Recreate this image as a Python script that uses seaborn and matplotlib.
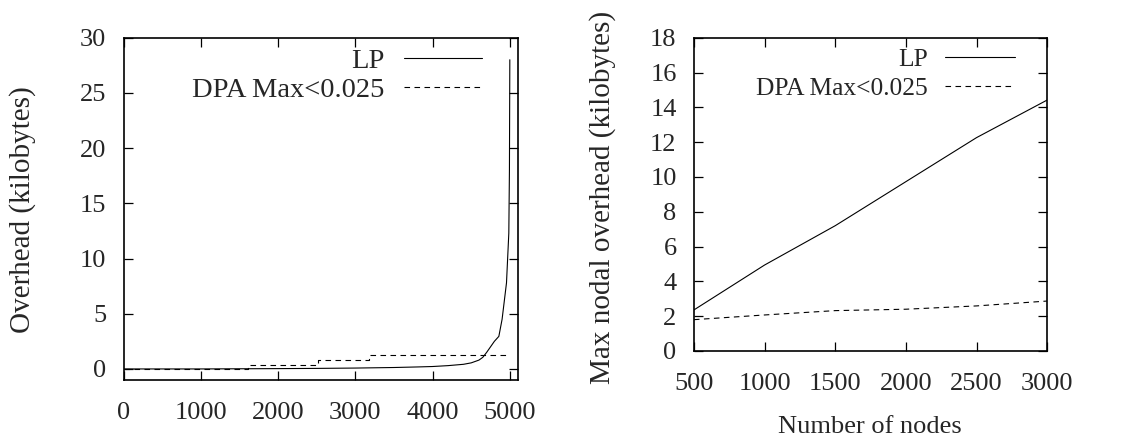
import matplotlib
matplotlib.use("Agg")
import matplotlib.pyplot as plt
import seaborn as sns
import pandas as pd

# Per-node overhead, nodes sorted by overhead (left panel)
lp_rank = [0, 1000, 2000, 2500, 3000, 3500, 3800, 4000, 4200, 4400, 4500,
           4600, 4650, 4700, 4750, 4800, 4858, 4900, 4957, 4987, 4995, 5000]
lp_overhead = [0.0, 0.0, 0.03, 0.05, 0.08, 0.13, 0.18, 0.22, 0.3, 0.42, 0.55,
               0.8, 1.05, 1.5, 2.0, 2.5, 2.95, 4.5, 7.8, 12.3, 18.0, 28.0]

dpa_rank = [0, 1613, 1613, 2511, 2511, 3180, 3180, 5000]
dpa_overhead = [0.0, 0.0, 0.4, 0.4, 0.85, 0.85, 1.27, 1.27]

# Max nodal overhead against network size (right panel)
nodes = [500, 1000, 1500, 2000, 2500, 3000]
lp_max = [2.36, 4.94, 7.2, 9.73, 12.26, 14.42]
dpa_max = [1.8, 2.07, 2.32, 2.4, 2.59, 2.87]

LP_LABEL = "LP"
DPA_LABEL = "DPA Max<0.025"

sns.set_style("ticks")
plt.rcParams["font.family"] = ["Liberation Serif", "DejaVu Serif"]
TICK_FS = 19
XLABEL_FS = 19
YLABEL_FS = 21

fig = plt.figure(figsize=(11.44, 4.42), dpi=100)
ax1 = fig.add_axes([0.108, 0.1403, 0.3444, 0.7745])
ax2 = fig.add_axes([0.6066, 0.2059, 0.3088, 0.7088])

left_df = pd.concat([
    pd.DataFrame({"rank": lp_rank, "overhead": lp_overhead, "series": LP_LABEL}),
    pd.DataFrame({"rank": dpa_rank, "overhead": dpa_overhead, "series": DPA_LABEL}),
])
right_df = pd.concat([
    pd.DataFrame({"nodes": nodes, "overhead": lp_max, "series": LP_LABEL}),
    pd.DataFrame({"nodes": nodes, "overhead": dpa_max, "series": DPA_LABEL}),
])

palette = {LP_LABEL: "black", DPA_LABEL: "black"}
dashes = {LP_LABEL: "", DPA_LABEL: (5, 4)}

sns.lineplot(data=left_df, x="rank", y="overhead", hue="series", style="series",
             palette=palette, dashes=dashes, sort=False, estimator=None,
             linewidth=0.8, ax=ax1)
sns.lineplot(data=right_df, x="nodes", y="overhead", hue="series", style="series",
             palette=palette, dashes=dashes, sort=False, estimator=None,
             linewidth=0.8, ax=ax2)

ax1.set_xlim(0, 5100)
ax1.set_ylim(-1, 30)
ax1.set_xticks(range(0, 5001, 1000))
ax1.set_yticks(range(0, 31, 5))
ax1.set_xlabel("")
ax1.set_ylabel("Overhead (kilobytes)", fontsize=YLABEL_FS)
ax1.yaxis.set_label_coords(-0.2556, 0.497)
ax1.yaxis.label.set_va("center")

ax2.set_xlim(500, 3000)
ax2.set_ylim(0, 18)
ax2.set_xticks(range(500, 3001, 500))
ax2.set_yticks(range(0, 19, 2))
ax2.set_xlabel("Number of nodes", fontsize=XLABEL_FS)
ax2.xaxis.set_label_coords(0.498, -0.243)
ax2.xaxis.label.set_va("center")
ax2.set_ylabel("Max nodal overhead (kilobytes)", fontsize=YLABEL_FS)
ax2.yaxis.set_label_coords(-0.2576, 0.4915)
ax2.yaxis.label.set_va("center")

panels = (
    # axes, legend anchor, x tick pad, legend font size, legend row spacing
    (ax1, (0.9094, 0.97), 16, 20.5, 0.1),
    (ax2, (0.9086, 0.967), 15.5, 18.4, 0.25),
)
for ax, anchor, xpad, leg_fs, leg_sp in panels:
    for side in ("top", "right", "bottom", "left"):
        ax.spines[side].set_visible(True)
        ax.spines[side].set_color("black")
        ax.spines[side].set_linewidth(1.2)
    ax.tick_params(axis="both", which="major", direction="in", length=6.5,
                   width=0.9, top=True, right=True, labelsize=TICK_FS, color="black")
    ax.tick_params(axis="x", pad=xpad)
    ax.tick_params(axis="y", pad=12.5)
    handles, labels = ax.get_legend_handles_labels()
    ax.legend(handles=handles, labels=labels, loc="upper right",
              bbox_to_anchor=anchor, frameon=False, markerfirst=False,
              fontsize=leg_fs, handlelength=2.74, handletextpad=0.67,
              labelspacing=leg_sp, borderpad=0, borderaxespad=0)

fig.savefig("out.png", dpi=100)
